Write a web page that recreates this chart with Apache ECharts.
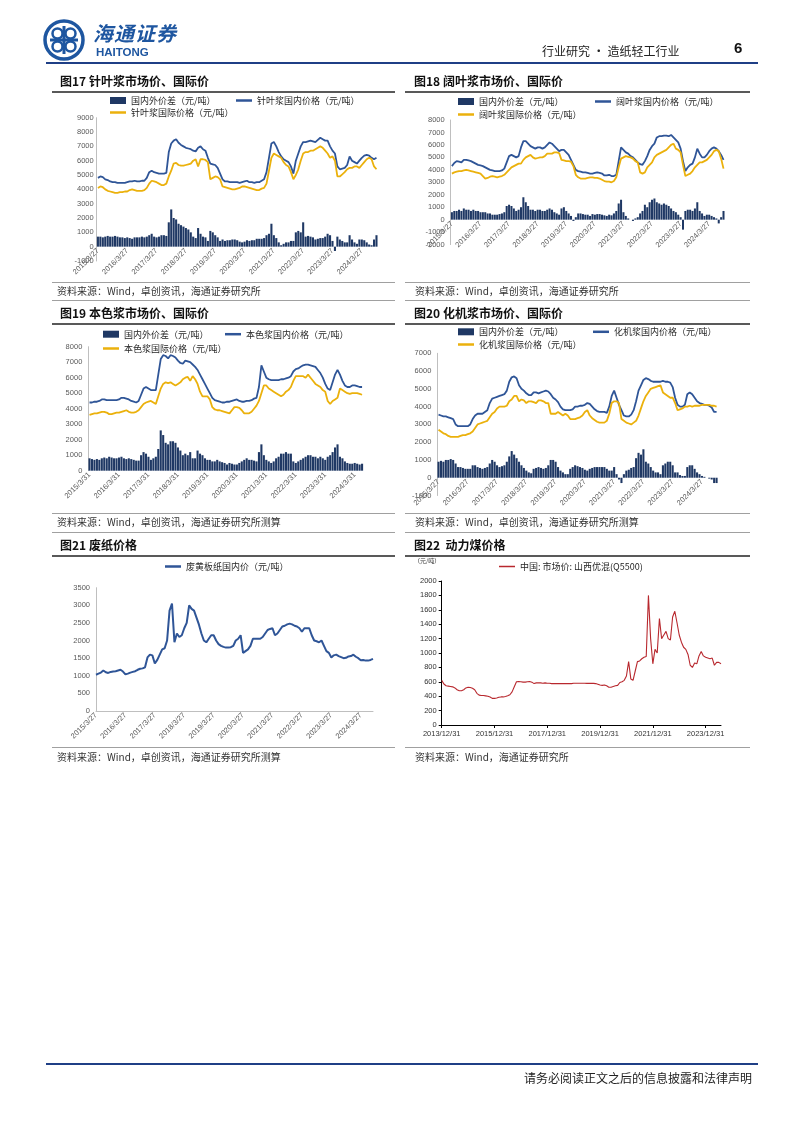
<!DOCTYPE html>
<html><head><meta charset="utf-8">
<script src="https://cdn.jsdelivr.net/npm/echarts@6/dist/echarts.min.js"></script>
<style>
body{margin:0;background:#fff;}
#page{position:relative;width:802px;height:1133px;overflow:hidden;font-family:"Noto Sans CJK SC",sans-serif;background:#fff;}
#chart{position:absolute;left:0;top:0;width:802px;height:1133px;}
.t{position:absolute;white-space:nowrap;line-height:16px;}
.ttl{font-size:12px;font-weight:bold;color:#111;}
.src{font-size:10px;color:#333;}
.hl{position:absolute;}
</style></head>
<body><div id="page">
<div id="chart"></div>
<svg style="position:absolute;left:42px;top:18px" width="44" height="44" viewBox="0 0 44 44">
 <circle cx="22" cy="22" r="19" fill="none" stroke="#1E56A0" stroke-width="3.5"/>
 <circle cx="15.5" cy="15.5" r="5" fill="none" stroke="#1E56A0" stroke-width="2.5"/>
 <circle cx="28.5" cy="15.5" r="5" fill="none" stroke="#1E56A0" stroke-width="2.5"/>
 <circle cx="15.5" cy="28.5" r="5" fill="none" stroke="#1E56A0" stroke-width="2.5"/>
 <circle cx="28.5" cy="28.5" r="5" fill="none" stroke="#1E56A0" stroke-width="2.5"/>
 <rect x="20.5" y="8" width="3" height="28" fill="#1E56A0"/>
 <rect x="8" y="20.5" width="28" height="3" fill="#1E56A0"/>
</svg>
<div class="t" style="left:93px;top:22px;font-size:20px;line-height:22px;font-style:italic;font-weight:bold;color:#1E56A0;letter-spacing:1px;">海通证券</div>
<div class="t" style="left:96px;top:44px;font-size:11.5px;font-weight:bold;color:#1E56A0;font-family:Arial,'Liberation Sans',sans-serif;">HAITONG</div>
<div class="t" style="left:542px;top:43px;font-size:12px;color:#222;">行业研究 · 造纸轻工行业</div>
<div class="t" style="left:734px;top:40px;font-size:15px;font-weight:bold;color:#111;font-family:Arial,'Liberation Sans',sans-serif;">6</div>
<div class="hl" style="left:46px;top:62px;width:712px;height:2px;background:#1F3F86;"></div>

<!-- row 1 -->
<div class="t ttl" style="left:60px;top:73px;">图17 针叶浆市场价、国际价</div>
<div class="t ttl" style="left:414px;top:73px;">图18 阔叶浆市场价、国际价</div>
<div class="hl" style="left:52px;top:91px;width:343px;height:2px;background:#595959;"></div>
<div class="hl" style="left:405px;top:91px;width:345px;height:2px;background:#595959;"></div>
<div class="hl" style="left:52px;top:282px;width:343px;height:1px;background:#A0A0A0;"></div>
<div class="hl" style="left:405px;top:282px;width:345px;height:1px;background:#A0A0A0;"></div>
<div class="t src" style="left:57px;top:283px;">资料来源：Wind，卓创资讯，海通证券研究所</div>
<div class="t src" style="left:415px;top:283px;">资料来源：Wind，卓创资讯，海通证券研究所</div>
<div class="hl" style="left:52px;top:300px;width:343px;height:1px;background:#A0A0A0;"></div>
<div class="hl" style="left:405px;top:300px;width:345px;height:1px;background:#A0A0A0;"></div>

<!-- row 2 -->
<div class="t ttl" style="left:60px;top:305px;">图19 本色浆市场价、国际价</div>
<div class="t ttl" style="left:414px;top:305px;">图20 化机浆市场价、国际价</div>
<div class="hl" style="left:52px;top:323px;width:343px;height:2px;background:#595959;"></div>
<div class="hl" style="left:405px;top:323px;width:345px;height:2px;background:#595959;"></div>
<div class="hl" style="left:52px;top:513px;width:343px;height:1px;background:#A0A0A0;"></div>
<div class="hl" style="left:405px;top:513px;width:345px;height:1px;background:#A0A0A0;"></div>
<div class="t src" style="left:57px;top:514px;">资料来源：Wind，卓创资讯，海通证券研究所测算</div>
<div class="t src" style="left:415px;top:514px;">资料来源：Wind，卓创资讯，海通证券研究所测算</div>
<div class="hl" style="left:52px;top:532px;width:343px;height:1px;background:#A0A0A0;"></div>
<div class="hl" style="left:405px;top:532px;width:345px;height:1px;background:#A0A0A0;"></div>

<!-- row 3 -->
<div class="t ttl" style="left:60px;top:537px;">图21 废纸价格</div>
<div class="t ttl" style="left:414px;top:537px;">图22&nbsp;&nbsp;动力煤价格</div>
<div class="hl" style="left:52px;top:555px;width:343px;height:2px;background:#595959;"></div>
<div class="hl" style="left:405px;top:555px;width:345px;height:2px;background:#595959;"></div>
<div class="hl" style="left:52px;top:747px;width:343px;height:1px;background:#A0A0A0;"></div>
<div class="hl" style="left:405px;top:747px;width:345px;height:1px;background:#A0A0A0;"></div>
<div class="t src" style="left:57px;top:749px;">资料来源：Wind，卓创资讯，海通证券研究所测算</div>
<div class="t src" style="left:415px;top:749px;">资料来源：Wind，海通证券研究所</div>

<div class="hl" style="left:46px;top:1063px;width:712px;height:2px;background:#1F3F86;"></div>
<div class="t" style="left:524px;top:1070px;font-size:12px;color:#222;">请务必阅读正文之后的信息披露和法律声明</div>
</div>
<script>
// ---------- data ----------
function mkDates(y, m, d, n) {
  const out = [];
  for (let i = 0; i < n; i++) {
    const k = m - 1 + i;
    out.push((y + Math.floor(k / 12)) + '/' + (k % 12 + 1) + '/' + d);
  }
  return out;
}
const cats17 = mkDates(2015, 3, 27, 115);
const cats18 = mkDates(2015, 3, 27, 115);
const cats19 = mkDates(2015, 3, 31, 112);
const cats20 = mkDates(2015, 3, 27, 115);
const cats21 = mkDates(2015, 3, 27, 114);
const cats22 = mkDates(2013, 12, 31, 128);

const nbskDiff = [700,700,650,700,750,700,700,750,700,650, 650,600,650,600,550,650,650,650,700,650,
 700,800,900,700,650,700,800,800,750,1700, 2600,2000,1900,1600,1500,1400,1300,1200,1000,700,
 600,1300,900,700,650,400,1100,1000,800,650, 400,500,400,450,450,500,500,450,350,300,
 350,450,400,450,450,550,550,550,600,800, 900,1600,800,600,300,100,200,300,300,400,
 400,1000,1100,1000,1700,700,750,700,650,500, 550,600,600,700,900,800,400,-300,700,500,
 400,300,300,800,500,300,200,500,500,450, 300,150,100,500,800];
const nbskDom = [4800,4900,4850,4700,4650,4550,4500,4500,4450,4450, 4450,4450,4500,4550,4550,4600,4550,4550,4600,4600,
 4800,5200,5300,5200,5150,5100,5100,5100,5150,6600, 7200,7400,7500,7250,7100,7000,6900,6850,6800,6700,
 6650,6900,7000,6800,6700,6200,5800,5750,5700,5500, 5100,4700,4550,4550,4500,4500,4500,4500,4450,4500,
 4550,4600,4500,4500,4450,4500,4500,4600,4700,5200, 6200,7200,7300,7000,6600,6300,6100,6000,5900,5600,
 5100,6000,6500,7000,7300,7300,7350,7400,7350,7300, 7450,7600,7500,7400,7400,7000,6700,6500,5600,5400,
 5450,5500,5700,6300,6000,5900,5800,6000,6200,6350, 6400,6350,6200,6100,6200];
const nbskIntl = [4100,4200,4150,4000,3900,3850,3800,3750,3750,3800, 3800,3850,3850,3950,4000,3950,3900,3900,3900,3950,
 4100,4400,4600,4550,4500,4400,4300,4300,4400,4900, 5300,5800,5850,5700,5650,5650,5700,5750,5800,6000,
 6100,5600,6100,6100,6050,5900,4700,4800,4900,4850, 4700,4200,4150,4100,4050,4000,4000,4050,4100,4200,
 4200,4150,4100,4050,4000,3950,3950,4050,4100,4400, 5300,6200,6500,6400,6300,6200,5900,5700,5600,5200,
 4700,5000,5400,6000,6500,6600,6600,6700,6700,6800, 6900,7000,6900,6700,6500,6200,6300,6000,4900,4900,
 5050,5200,5400,5500,5500,5600,5600,5500,5700,5900, 6100,6200,6100,5600,5400];

const hbkpDiff = [600,700,700,800,700,900,800,800,700,800, 700,700,600,600,600,500,500,400,400,400,
 450,500,600,1100,1200,1100,900,700,800,1000, 1800,1400,1100,800,800,700,800,800,700,700,
 800,900,800,600,500,400,900,1000,700,500, 300,-100,200,500,500,450,400,400,300,450,
 400,450,450,400,350,300,400,350,500,700, 1300,1600,600,300,100,0,-100,100,200,500,
 700,1200,1000,1400,1600,1700,1400,1300,1200,1300, 1200,1100,900,700,600,400,200,-800,700,800,
 800,700,900,1400,700,500,300,400,400,300, 200,100,-300,200,700];
const hbkpDom = [4300,4550,4700,4650,4600,4800,4800,4750,4700,4600, 4500,4400,4350,4300,4200,4100,4000,3950,3900,3900,
 3900,3950,4100,4600,5100,5200,5100,5000,5100,5800, 6300,6300,6100,5900,5800,5700,5800,5800,5700,5800,
 6000,6200,6100,5900,5700,5500,5600,5600,5400,5200, 4800,4400,4000,3900,3850,3800,3800,3750,3700,3700,
 3750,3800,3750,3700,3550,3550,3600,3500,3500,3600, 4700,5800,5600,5400,5300,5100,5000,4800,4600,4450,
 4400,4700,5100,5600,5900,6100,6600,6700,6700,6750, 6750,6700,6800,6600,6400,6200,5700,4700,3900,4200,
 4400,4500,5000,5700,5300,5000,5000,5200,5500,5700, 5800,5700,5500,5200,4800];
const hbkpIntl = [3700,3800,3850,3900,3900,3950,4000,3950,3900,3850, 3800,3750,3700,3500,3300,3350,3450,3500,3450,3400,
 3450,3500,3600,3800,4000,4200,4300,4400,4500,4500, 4800,5000,5100,5200,5000,4900,4950,5000,5000,5100,
 5300,5300,5300,5400,5400,5350,4800,4750,4700,4700, 4650,4300,3600,3400,3300,3300,3300,3350,3400,3400,
 3350,3350,3300,3200,3100,3050,3050,3000,3100,3400, 4200,4900,5000,5100,5050,5000,4900,4700,4600,3800,
 3700,3800,4200,4400,4600,5000,5200,5300,5400,5500, 5600,5800,6000,6100,5700,5600,5400,4400,3500,3600,
 3700,3900,4200,4400,4600,4600,4700,4800,5000,5200, 5500,5600,5500,4900,4100];

const ukpDiff = [800,750,700,750,700,800,850,800,900,850, 800,800,850,900,800,750,800,750,700,650,
 650,1000,1200,1100,900,700,800,900,1400,2600, 2300,1800,1700,1900,1900,1800,1500,1300,1000,1100,
 1000,1200,800,800,1300,1100,1000,800,700,700, 600,600,700,600,550,500,400,500,450,400,
 400,500,600,700,800,700,700,650,600,1200, 1700,1000,700,600,500,600,800,900,1100,1100,
 1200,1100,1100,600,500,600,700,800,900,1000, 1000,900,900,800,900,800,700,900,1000,1200,
 1500,1700,900,800,600,500,450,450,500,450, 400,450];
const ukpDom = [4400,4400,4450,4450,4500,4600,4600,4550,4550,4550, 4550,4550,4600,4700,4700,4650,4600,4500,4450,4400,
 4500,4900,5300,5400,5300,5200,5200,5200,6200,7200, 7450,7400,7250,7450,7400,7300,7100,6950,6900,7100,
 7050,7000,6850,6700,6500,6200,5900,5600,5300,5000, 4700,4550,4500,4450,4400,4400,4450,4450,4500,4550,
 4600,4500,4450,4450,4500,4500,4550,4650,4700,5400, 6800,6400,6000,5900,5850,5850,5850,5850,5900,5900,
 5950,6000,6100,6400,6550,6600,6700,6800,6850,6850, 6800,6750,6700,6500,6300,6000,5600,5300,5200,5700,
 6200,6500,6200,5800,5500,5400,5400,5500,5500,5450, 5400,5400];
const ukpIntl = [3600,3650,3700,3700,3750,3800,3800,3750,3650,3650, 3700,3750,3750,3800,3850,3900,3800,3750,3750,3800,
 3900,4100,4300,4400,4450,4500,4400,4300,4800,5300, 5600,5700,5650,5700,5600,5500,5600,5700,5900,6000,
 6050,5800,6100,5900,5600,5100,4800,4800,4800,4600, 4100,3950,3900,3900,3850,3800,3750,3700,3900,4100,
 4100,4050,3900,3700,3700,3700,3800,4000,4200,4500, 5000,5500,5500,5300,5200,5100,5000,4900,4800,4900,
 5100,5200,5400,5800,6100,6100,6100,6100,6000,6200, 6000,5800,5600,5500,5400,5200,5100,4500,4300,4500,
 4600,4700,5300,5200,5100,5000,4950,5000,5000,5000, 4950,4900];

const bctmpDiff = [900,950,900,1000,1000,1050,1000,800,600,600, 550,500,500,500,700,700,600,550,500,550,
 600,800,1000,900,700,600,650,700,900,1200, 1500,1300,1100,900,700,550,400,300,250,500,
 550,600,550,500,550,700,1000,1000,900,600, 400,300,200,200,500,600,700,650,600,550,
 450,400,500,550,600,600,600,600,600,500, 400,400,600,200,-100,-300,200,400,450,550,
 600,1100,1400,1300,1600,900,800,600,400,300, 300,200,700,800,900,900,700,300,300,150,
 100,100,600,700,700,500,300,200,100,50, 0,-50,-100,-300,-300];
const bctmpDom = [3550,3500,3450,3450,3400,3350,3300,3000,2900,2900, 2900,2900,2900,3000,3300,3500,3600,3600,3600,3700,
 3800,4200,4450,4500,4550,4600,4650,4700,4900,5400, 5650,5700,5600,5200,5000,4900,4750,4650,4650,4800,
 4800,4750,4800,4850,4900,4850,4700,4500,4400,4250, 4000,3850,3800,3800,3800,3850,4000,4000,4050,4050,
 4100,4200,4150,4000,3850,3750,3700,3700,3700,3650, 4000,4600,4900,4500,4100,3800,3500,3450,3450,3550,
 3800,4300,4900,5200,5500,5600,5550,5450,5400,5400, 5400,5400,5450,5400,5400,5350,5100,4500,4100,4000,
 4000,4100,4700,4800,4700,4500,4300,4200,4150,4100, 4100,4050,3950,3700,3700];
const bctmpIntl = [2700,2600,2500,2450,2350,2300,2300,2300,2300,2350, 2400,2400,2450,2500,2600,2800,3000,3050,3100,3150,
 3200,3400,3600,3700,3900,4000,4000,4000,4050,4300, 4400,4600,4600,4300,4400,4350,4200,4300,4300,4250,
 4200,4350,4350,4300,4200,4200,3600,3600,3600,3700, 3600,3500,3600,3500,3300,3300,3300,3350,3400,3500,
 3700,3800,3500,3350,3250,3150,3100,3100,3100,3200, 3600,4200,4300,4300,4200,3300,3200,3100,3050,3000,
 3100,3200,3500,3900,4300,4600,4800,5000,5050,5100, 5150,5200,4800,4700,4600,4500,4500,4200,3800,3850,
 3900,4000,4000,4050,4000,4050,4050,4050,4100,4100, 4100,4100,4050,4050,4000];

const occPrice = [1030,1060,1090,1150,1100,1080,1110,1120,1130,1150, 1170,1120,1040,1060,1090,1110,1130,1170,1200,1210,
 1240,1520,1600,1580,1350,1450,1600,1750,1780,2000, 2850,3050,1950,2200,2100,2150,2350,2500,3000,2900,
 2850,2650,2450,2200,2000,1950,2050,2150,2150,2000, 1900,1850,1820,1800,1800,1810,1850,2000,2050,2150,
 1650,1700,1750,1850,2050,2050,2050,2050,2100,2200, 2300,2330,2350,2150,2200,2300,2400,2420,2460,2480,
 2460,2420,2400,2350,2250,2350,2350,2350,2150,2000, 1980,1950,2000,1850,1700,1650,1520,1580,1600,1560,
 1530,1500,1510,1550,1560,1600,1540,1500,1440,1450, 1430,1430,1450,1480];

const coalPrice = [620,570,545,540,535,530,515,490,475,475, 490,515,525,520,510,490,440,415,410,410,
 405,400,390,370,370,375,385,390,390,395, 405,420,460,530,600,605,600,595,595,600,
 605,595,575,585,585,585,580,585,580,580, 575,575,575,575,575,575,575,575,575,575,
 580,580,580,580,580,580,578,578,578,578, 575,565,555,550,555,545,525,525,535,545,
 550,590,600,620,680,880,640,620,750,880, 890,920,940,950,1800,1200,850,1050,1000,1480,
 1200,1250,1300,1200,1180,1500,1580,1420,1250,1150, 1080,1050,980,830,800,860,850,960,1020,960,
 940,930,920,930,830,870,870,850];

// ---------- chart ----------
const F = '"Noto Sans CJK SC", sans-serif';
const AXF = 'Arial, "Liberation Sans", sans-serif';
const BAR = '#1F3864', DOM = '#2F5597', INTL = '#EBB10C', RED = '#B8282E';
const DIFF = '国内外价差（元/吨）';
const plain = function (v) { return String(v); };

// labels hang from the zero line (Excel style): margin is reduced by the distance zero-line → grid bottom
function xCat(gi, cats, bg, margin) {
  return {type:'category', gridIndex:gi, data:cats, boundaryGap:bg,
    axisLine:{show:false}, axisTick:{show:false},
    axisLabel:{interval:11, rotate:45, margin:margin, fontSize:7.5, color:'#595959', fontFamily:AXF}};
}
function yVal(gi, min, max, step, margin) {
  return {type:'value', gridIndex:gi, min:min, max:max, interval:step,
    splitLine:{show:false}, axisLine:{show:true, lineStyle:{color:'#BFBFBF', width:1}}, axisTick:{show:false},
    axisLabel:{margin:margin, fontSize:7.5, color:'#595959', fontFamily:AXF, formatter:plain}};
}
function bar(ai, data) {
  return {type:'bar', name:DIFF, xAxisIndex:ai, yAxisIndex:ai, data:data, itemStyle:{color:BAR}, barCategoryGap:'15%', z:1};
}
function line(name, ai, data, color, w) {
  return {type:'line', name:name, xAxisIndex:ai, yAxisIndex:ai, data:data, symbol:'none',
    lineStyle:{color:color, width:w}, itemStyle:{color:color}, z:3};
}
function lg(name, x, cy, h) {
  return {data:[name], left:x, top:cy - 6, icon:'rect', itemWidth:16, itemHeight:h, padding:0,
    selectedMode:false, textStyle:{fontSize:9, color:'#262626', fontFamily:F}};
}

const option = {
  animation:false,
  textStyle:{fontFamily:F},
  grid:[
    {left:96.7, top:117.7, width:281, height:143.3},
    {left:450.7, top:120, width:274, height:124.6},
    {left:88.3, top:346.7, width:275, height:124},
    {left:437.3, top:353.3, width:280.5, height:142.2},
    {left:96, top:587.7, width:277, height:123.3},
    {left:441.7, top:581, width:279.3, height:144}
  ],
  xAxis:[
    xCat(0, cats17, true, -11.3), xCat(1, cats18, true, -21.9), xCat(2, cats19, true, 3), xCat(3, cats20, true, -14.8),
    Object.assign(xCat(4, cats21, false, 3), {axisLine:{show:true, lineStyle:{color:'#BFBFBF'}}}),
    {type:'category', gridIndex:5, data:cats22, boundaryGap:false,
      axisLine:{show:true, lineStyle:{color:'#000', width:1}},
      axisTick:{show:true, interval:23, length:3, lineStyle:{color:'#000'}},
      axisLabel:{interval:23, margin:5, fontSize:7.5, color:'#333', fontFamily:AXF}}
  ],
  yAxis:[
    yVal(0, -1000, 9000, 1000, 3), yVal(1, -2000, 8000, 1000, 6), yVal(2, 0, 8000, 1000, 6),
    yVal(3, -1000, 7000, 1000, 6), yVal(4, 0, 3500, 500, 6),
    {type:'value', gridIndex:5, min:0, max:2000, interval:200, splitLine:{show:false},
      axisLine:{show:true, lineStyle:{color:'#000', width:1}},
      axisTick:{show:true, length:3, lineStyle:{color:'#000'}},
      axisLabel:{margin:5, fontSize:7.5, color:'#333', fontFamily:AXF, formatter:plain}}
  ],
  legend:[
    lg(DIFF, 110, 102, 7), lg('针叶浆国内价格（元/吨）', 236, 102, 2.5), lg('针叶浆国际价格（元/吨）', 110, 114, 2.5),
    lg(DIFF, 458, 103, 7), lg('阔叶浆国内价格（元/吨）', 595, 103, 2.5), lg('阔叶浆国际价格（元/吨）', 458, 116, 2.5),
    lg(DIFF, 103, 335.7, 7), lg('本色浆国内价格（元/吨）', 225, 335.7, 2.5), lg('本色浆国际价格（元/吨）', 103, 350, 2.5),
    lg(DIFF, 458, 333.3, 7), lg('化机浆国内价格（元/吨）', 593, 333.3, 2.5), lg('化机浆国际价格（元/吨）', 458, 346, 2.5),
    lg('废黄板纸国内价（元/吨）', 165, 568, 2.5),
    lg('中国: 市场价: 山西优混(Q5500)', 499, 568, 1.5)
  ],
  graphic:[
    {type:'text', left:414, top:558, style:{text:'（元/吨）', fontSize:6, fill:'#333', fontFamily:F}}
  ],
  series:[
    bar(0, nbskDiff), line('针叶浆国内价格（元/吨）', 0, nbskDom, DOM, 1.8), line('针叶浆国际价格（元/吨）', 0, nbskIntl, INTL, 1.8),
    bar(1, hbkpDiff), line('阔叶浆国内价格（元/吨）', 1, hbkpDom, DOM, 1.8), line('阔叶浆国际价格（元/吨）', 1, hbkpIntl, INTL, 1.8),
    bar(2, ukpDiff), line('本色浆国内价格（元/吨）', 2, ukpDom, DOM, 1.8), line('本色浆国际价格（元/吨）', 2, ukpIntl, INTL, 1.8),
    bar(3, bctmpDiff), line('化机浆国内价格（元/吨）', 3, bctmpDom, DOM, 1.8), line('化机浆国际价格（元/吨）', 3, bctmpIntl, INTL, 1.8),
    line('废黄板纸国内价（元/吨）', 4, occPrice, DOM, 2),
    line('中国: 市场价: 山西优混(Q5500)', 5, coalPrice, RED, 1.1)
  ]
};
const chart = echarts.init(document.getElementById('chart'), null, {renderer:'canvas'});
chart.setOption(option);
</script>
</body></html>
